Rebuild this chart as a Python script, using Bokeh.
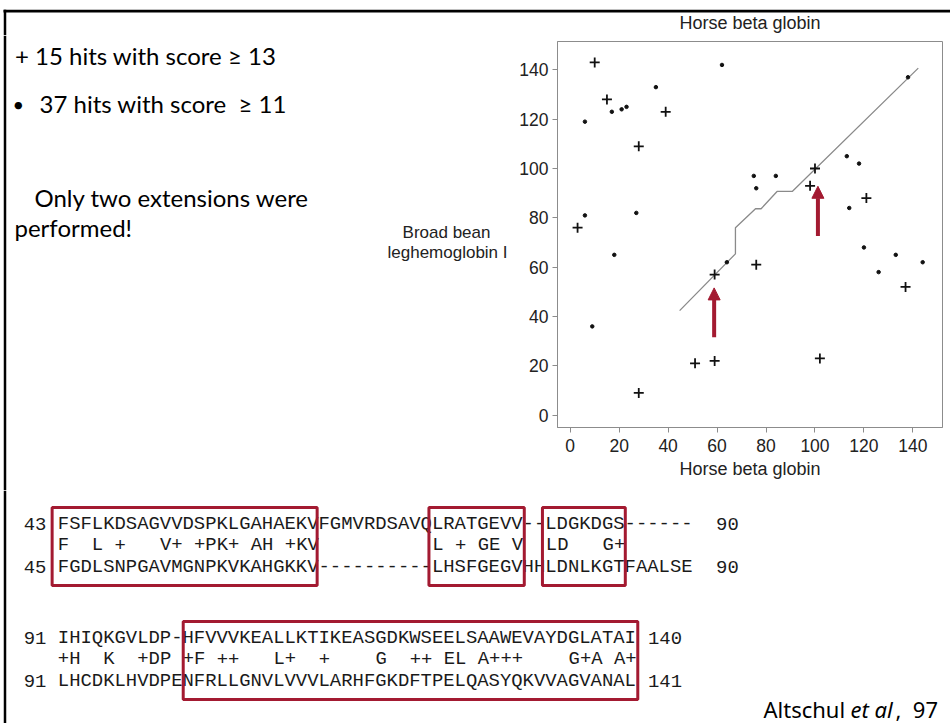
from bokeh.plotting import figure
from bokeh.models import Range1d, Arrow, NormalHead, FixedTicker, ColumnDataSource
from bokeh.layouts import column, row
from bokeh.embed import file_html
from bokeh.resources import INLINE
from bokeh.core.properties import value

# ---------------- data ----------------
strong_x = [3, 10, 15, 28, 39, 28, 51, 59, 59, 76, 98, 100, 102, 121, 137]
strong_y = [76, 143, 128, 109, 123, 9, 21, 22, 57, 61, 93, 100, 23, 88, 52]
weak_x = [6, 6, 9, 17, 18, 21, 23, 27, 35, 62, 64, 75, 76, 84, 113, 114, 118, 120, 126, 133, 138, 144]
weak_y = [119, 81, 36, 123, 65, 124, 125, 82, 133, 142, 62, 97, 92, 97, 105, 84, 102, 68, 58, 65, 137, 62]
path_x = [44.7, 67.5, 67.5, 75.7, 78.0, 84.5, 90.7, 142.2]
path_y = [42.4, 65.4, 76.0, 83.7, 83.7, 90.7, 90.7, 140.7]
arrow_x = [58.8, 101.2]
arrow_y0 = [31.6, 72.6]
arrow_y1 = [51.6, 92.8]
ticks = [0, 20, 40, 60, 80, 100, 120, 140]
x_title = "Horse beta globin"
y_title = ["Broad bean", "leghemoglobin I"]

notes = ["+ 15 hits with score \u2265 13", "37 hits with score \u00a0\u2265 11",
         "Only two extensions were", "performed!"]
bullet = "\u2022"

block1 = ["43 FSFLKDSAGVVDSPKLGAHAEKVFGMVRDSAVQLRATGEVV--LDGKDGS------  90",
          "   F  L +   V+ +PK+ AH +KV          L + GE V  LD   G+",
          "45 FGDLSNPGAVMGNPKVKAHGKKV----------LHSFGEGVHHLDNLKGTFAALSE  90"]
block2 = ["91 IHIQKGVLDP-HFVVVKEALLKTIKEASGDKWSEELSAAWEVAYDGLATAI 140",
          "   +H  K  +DP +F ++   L+  +    G  ++ EL A+++    G+A A+",
          "91 LHCDKLHVDPENFRLLGNVLVVVLARHFGKDFTPELQASYQKVVAGVANAL 141"]
# boxes, in alignment columns (0 = first residue)
box_col_start = [-0.5, 32.7, 42.7, 11.05]
box_col_end = [22.85, 41.1, 50.0, 51.1]
box_block = [0, 0, 0, 1]

citation = ["Altschul", "et al", ",\u00a0\u00a097"]

RED = "#A31A31"
SANS = "Liberation Sans"

# ---------------- layout constants (page pixels) ----------------
W = 950
STRIP_H = 35
TOP_END = 490
PAGE_H = 723
BORDER_X = 4.5


def blank(width, height, xr, yr):
    f = figure(width=width, height=height, x_range=xr, y_range=yr,
               x_axis_location=None, y_axis_location=None,
               toolbar_location=None, output_backend="svg", min_border=0)
    f.grid.grid_line_color = None
    f.outline_line_color = None
    f.background_fill_color = "white"
    f.border_fill_color = "white"
    f.frame_align = False
    return f


# top strip: slide border + top title of the dot plot
strip = blank(W, STRIP_H, Range1d(0, W), Range1d(STRIP_H, 0))
strip.quad(left=[3], right=[W], top=[9.3], bottom=[12], fill_color="black", line_color=None)
strip.segment(x0=[BORDER_X], y0=[9.3], x1=[BORDER_X], y1=[STRIP_H], line_color="black", line_width=2.5)
strip.text(x=[749.5], y=[22], text=[x_title], text_font=value(SANS), text_font_size="18px",
           text_color="#222", text_baseline="middle", text_align="center")

# left panel
left = blank(515, TOP_END - STRIP_H, Range1d(0, 515), Range1d(TOP_END, STRIP_H))
left.segment(x0=[BORDER_X], y0=[STRIP_H], x1=[BORDER_X], y1=[TOP_END], line_color="black", line_width=2.5)
left.text(x=[14.5, 39, 34, 14], y=[55, 103, 197, 227], text=notes,
          text_font=value("Lato"), text_font_size="24px", text_color="black",
          text_baseline="middle", text_align="left")
left.text(x=[12], y=[103], text=[bullet], text_font=value("Lato"), text_font_size="20px",
          text_color="black", text_baseline="middle", text_align="left")
left.text(x=[446, 447], y=[232, 252], text=y_title, text_font=value(SANS),
          text_font_size="17px", text_color="#222", text_baseline="middle",
          text_align="center")

# scatter (dot plot)
sc = figure(width=W - 515, height=TOP_END - STRIP_H,
            x_range=Range1d(-5.2, 152.1), y_range=Range1d(-5.0, 151.5),
            toolbar_location=None, output_backend="svg",
            min_border_left=42, min_border_right=8, min_border_top=6, min_border_bottom=63)
sc.frame_align = False
sc.title.text = ""
sc.title.standoff = 0
sc.grid.grid_line_color = None
sc.outline_line_color = "#8c8c8c"
sc.outline_line_width = 1
sc.background_fill_color = "white"
sc.border_fill_color = "white"
for ax in (sc.xaxis, sc.yaxis):
    ax.ticker = FixedTicker(ticks=ticks)
    ax.axis_line_color = "#8c8c8c"
    ax.major_tick_line_color = "#8c8c8c"
    ax.major_tick_in = 0
    ax.major_tick_out = 5
    ax.minor_tick_line_color = None
    ax.major_label_text_font = SANS
    ax.major_label_text_font_size = "17.5px"
    ax.major_label_text_color = "#222"
sc.yaxis.major_label_standoff = 4
sc.xaxis.major_label_standoff = 6
sc.xaxis.axis_label = x_title
sc.xaxis.axis_label_text_font = SANS
sc.xaxis.axis_label_text_font_size = "18px"
sc.xaxis.axis_label_text_font_style = "normal"
sc.xaxis.axis_label_text_color = "#222"
sc.xaxis.axis_label_standoff = 4

sc.line(path_x, path_y, line_color="#8a8a8a", line_width=1.3)
sc.scatter(weak_x, weak_y, marker="circle", size=3.5, fill_color="#111", line_color="#111")
sc.scatter(strong_x, strong_y, marker="cross", size=10, line_color="#111", line_width=1.8)
asrc = ColumnDataSource(dict(x=arrow_x, y0=arrow_y0, y1=arrow_y1))
sc.add_layout(Arrow(end=NormalHead(size=12, fill_color=RED, line_color=RED, line_width=1),
                    source=asrc, x_start="x", y_start="y0", x_end="x", y_end="y1",
                    line_color=RED, line_width=4))

# bottom panel with alignments
bot = blank(W, PAGE_H - TOP_END, Range1d(0, W), Range1d(PAGE_H, TOP_END))
bot.segment(x0=[BORDER_X], y0=[TOP_END], x1=[BORDER_X], y1=[PAGE_H], line_color="black", line_width=2.5)

CW = 11.35            # width of one alignment column
SEQ_X = 57.3          # left edge of first residue
ROW0 = [523, 637]     # first row of each block
GAP = 21.5


def tokens(s):
    out, i = [], 0
    while i < len(s):
        if s[i] == " ":
            i += 1
            continue
        j = i
        while j < len(s) and s[j] != " ":
            j += 1
        out.append((i, s[i:j]))
        i = j
    return out


tx, ty, tt = [], [], []
for b, block in enumerate([block1, block2]):
    for k, line in enumerate(block):
        for col, tok in tokens(line):
            tx.append(SEQ_X + (col - 3) * CW)
            ty.append(ROW0[b] + k * GAP)
            tt.append(tok)
bot.text(x=tx, y=ty, text=tt, text_font=value("Liberation Mono"), text_font_size="18.9px",
         text_color="#1a1a1a", text_baseline="middle", text_align="left")

bl = [SEQ_X + c * CW for c in box_col_start]
br = [SEQ_X + c * CW for c in box_col_end]
btop = [ROW0[b] - 16 for b in box_block]
bbot = [ROW0[b] + 2 * GAP + 19 for b in box_block]
bot.quad(left=bl, right=br, top=btop, bottom=bbot, fill_color=None,
         line_color=RED, line_width=3)

bot.text(x=[763], y=[708], text=[citation[0]], text_font=value("Noto Sans"),
         text_font_size="22px", text_color="black", text_baseline="middle")
bot.text(x=[850], y=[708], text=[citation[1]], text_font=value("Noto Sans"),
         text_font_size="22px", text_font_style="italic", text_color="black",
         text_baseline="middle")
bot.text(x=[895], y=[708], text=[citation[2]], text_font=value("Noto Sans"),
         text_font_size="22px", text_color="black", text_baseline="middle")

layout = column(strip, row(left, sc), bot)
open("out.html", "w").write(file_html(layout, INLINE))
